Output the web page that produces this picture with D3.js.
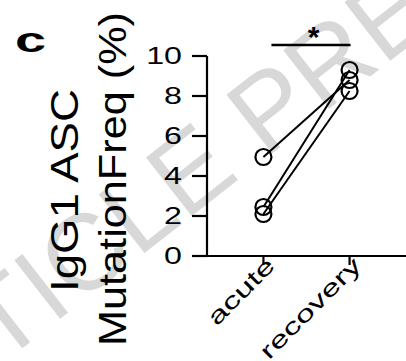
<!DOCTYPE html>
<html>
<head>
<meta charset="utf-8">
<script src="https://cdn.jsdelivr.net/npm/d3@7"></script>
<style>
  html, body { margin: 0; padding: 0; background: #fff; }
  svg { display: block; }
</style>
</head>
<body>
<svg id="chart" width="406" height="361"></svg>
<script>
// Paired mutation frequencies (%), one entry per donor
const categories = ["acute", "recovery"];
const acuteValues = [4.95, 2.45, 2.1];
const recoveryValues = [8.8, 9.3, 8.25];
const yTickValues = [0, 2, 4, 6, 8, 10];
const yTitleLines = ["IgG1 ASC", "MutationFreq (%)"];
const panelLabel = "c";
const significanceMark = "*";
const watermarkText = "ACCELERATED ARTICLE PREVIEW";

const FONT = "'Liberation Sans', Arial, Helvetica, sans-serif";
const svg = d3.select("#chart");

// Background watermark running diagonally across the panel
svg.append("text")
  .attr("font-family", FONT)
  .attr("font-size", 108)
  .attr("fill", "#d8d8d8")
  .attr("text-anchor", "start")
  .attr("transform", "translate(-758,958) rotate(-38)")
  .text(watermarkText);

const x = d3.scalePoint().domain(categories).range([207, 406]).padding(0.655);
const y = d3.scaleLinear().domain([0, 10]).range([256, 56]);

// Y axis
const yAxis = svg.append("g")
  .attr("transform", "translate(207,0)")
  .call(d3.axisLeft(y).tickValues(yTickValues).tickSize(15).tickSizeOuter(0).offset(0));
yAxis.select(".domain").attr("stroke", "#000").attr("stroke-width", 2.2);
yAxis.selectAll(".tick line").attr("stroke", "#000").attr("stroke-width", 2.2);
yAxis.selectAll(".tick text")
  .attr("x", null).attr("dy", "0.36em")
  .attr("transform", "translate(-25,0) scale(1.4,1)")
  .attr("font-family", FONT).attr("font-size", 23).attr("fill", "#000");

// X axis
const xAxis = svg.append("g")
  .attr("transform", "translate(0,256)")
  .call(d3.axisBottom(x).tickSize(9).tickSizeOuter(0).offset(0).tickFormat(() => ""));
xAxis.select(".domain").attr("stroke", "#000").attr("stroke-width", 2.2);
xAxis.selectAll(".tick line").attr("stroke", "#000").attr("stroke-width", 2.2);
xAxis.selectAll(".tick").append("text")
  .attr("text-anchor", "end")
  .attr("transform", "translate(13,11) rotate(-45) scale(1.5,1)")
  .attr("font-family", FONT).attr("font-size", 23).attr("fill", "#000")
  .text(d => d);

// Paired lines and points
const pairs = acuteValues.map((v, i) => [v, recoveryValues[i]]);
const line = d3.line().x((d, i) => x(categories[i])).y(d => y(d));
svg.append("g").selectAll("path").data(pairs).join("path")
  .attr("d", line)
  .attr("fill", "none").attr("stroke", "#000").attr("stroke-width", 2);

const points = pairs.flatMap(p => p.map((v, i) => ({ cat: categories[i], v })));
svg.append("g").selectAll("circle").data(points).join("circle")
  .attr("cx", d => x(d.cat)).attr("cy", d => y(d.v)).attr("r", 8)
  .attr("fill", "none").attr("stroke", "#000").attr("stroke-width", 2.2);

// Significance bracket
svg.append("line")
  .attr("x1", x(categories[0]) + 8).attr("x2", x(categories[1]) + 1)
  .attr("y1", 45).attr("y2", 45)
  .attr("stroke", "#000").attr("stroke-width", 2.5);
svg.append("text")
  .attr("x", (x(categories[0]) + x(categories[1])) / 2 + 7).attr("y", 47)
  .attr("text-anchor", "middle")
  .attr("font-family", FONT).attr("font-weight", "bold").attr("font-size", 30)
  .text(significanceMark);

// Y title, two rotated lines
const titleSpec = [
  { x: 78, y: 292, len: 203 },
  { x: 126, y: 346, len: 334 }
];
svg.append("g").selectAll("text").data(yTitleLines).join("text")
  .attr("transform", (d, i) => `translate(${titleSpec[i].x},${titleSpec[i].y}) rotate(-90)`)
  .attr("font-family", FONT).attr("font-size", 39).attr("fill", "#000")
  .attr("textLength", (d, i) => titleSpec[i].len)
  .attr("lengthAdjust", "spacingAndGlyphs")
  .text(d => d);

// Panel letter
svg.append("text")
  .attr("transform", "translate(15,52) scale(1.55,1)")
  .attr("font-family", FONT).attr("font-weight", "bold").attr("font-size", 36)
  .text(panelLabel);
</script>
</body>
</html>
